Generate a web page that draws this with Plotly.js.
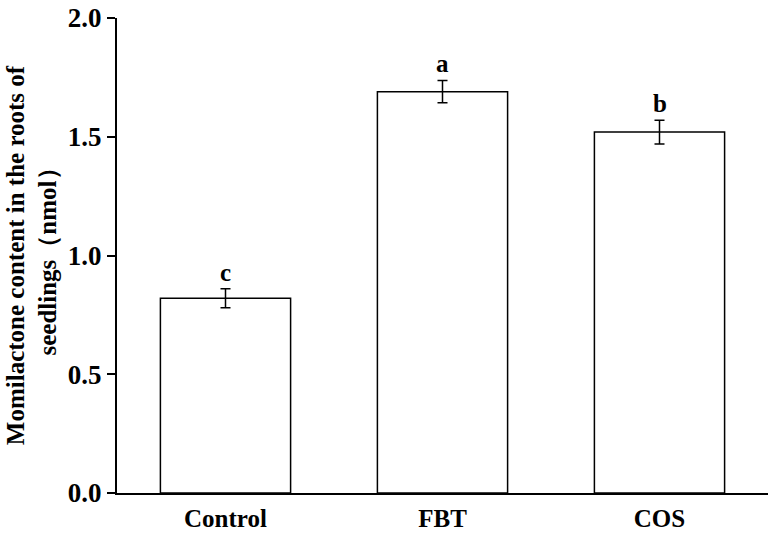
<!DOCTYPE html>
<html>
<head>
<meta charset="utf-8">
<script src="https://cdn.plot.ly/plotly-3.0.1.min.js"></script>
<style>html,body{margin:0;padding:0;background:#fff;}#chart{width:778px;height:534px;}</style>
</head>
<body>
<div id="chart"></div>
<script>
const categories = ["Control", "FBT", "COS"];
const values = [0.82, 1.69, 1.52];
const errors = [0.04, 0.047, 0.05];
const letters = ["c", "a", "b"];
const yTickVals = [0, 0.5, 1.0, 1.5, 2.0];
const yTickText = ["0.0", "0.5", "1.0", "1.5", "2.0"];

const fontFam = "Liberation Serif, Times New Roman, serif";

const trace = {
  type: "bar",
  x: categories,
  y: values,
  width: 0.6,
  marker: {color: "#ffffff", line: {color: "#000000", width: 1.5}},
  error_y: {type: "data", array: errors, visible: true, color: "#000000", thickness: 1.5, width: 5},
  hoverinfo: "none"
};

const annotations = categories.map((c, i) => ({
  x: c, y: values[i] + errors[i], xref: "x", yref: "y",
  text: "<b>" + letters[i] + "</b>", showarrow: false,
  yanchor: "bottom", yshift: 1,
  font: {family: fontFam, size: 25, color: "#000"}
}));

const layout = {
  width: 778, height: 534,
  margin: {l: 117, r: 10, t: 18, b: 41},
  paper_bgcolor: "#fff", plot_bgcolor: "#fff",
  showlegend: false,
  xaxis: {
    type: "category",
    range: [-0.5, 2.5],
    showline: true, linecolor: "#000", linewidth: 2,
    ticks: "", showgrid: false, zeroline: false,
    tickfont: {family: fontFam, size: 25, color: "#000", weight: "bold"},
    ticklabelstandoff: 2
  },
  yaxis: {
    range: [0, 2.0],
    tickvals: yTickVals, ticktext: yTickText,
    showline: true, linecolor: "#000", linewidth: 2,
    ticks: "outside", ticklen: 8, tickwidth: 2, tickcolor: "#000",
    showgrid: false, zeroline: false,
    tickfont: {family: fontFam, size: 27, color: "#000", weight: "bold"},
    title: {
      text: "<b>Momilactone content in the roots of<br>seedlings（nmol）</b>",
      font: {family: fontFam, size: 25, color: "#000"},
      standoff: 4
    }
  },
  annotations: annotations
};

Plotly.newPlot("chart", [trace], layout, {displayModeBar: false, staticPlot: true});
</script>
</body>
</html>
